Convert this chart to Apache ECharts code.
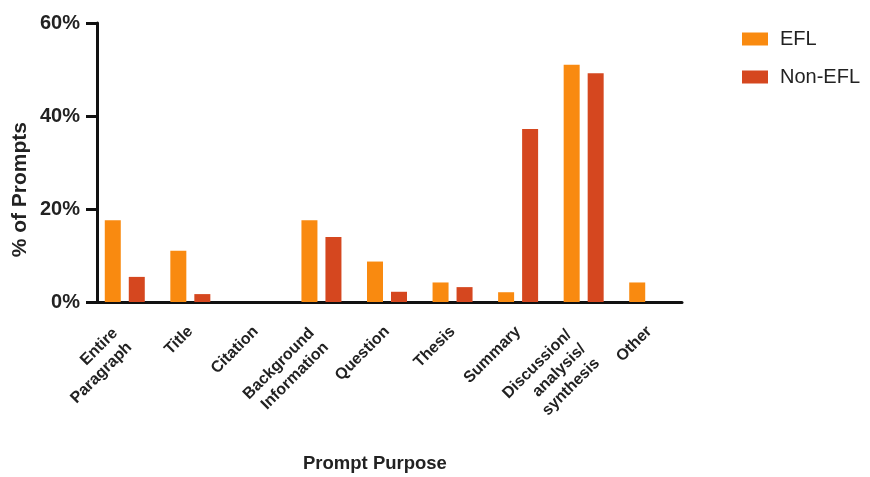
<!DOCTYPE html>
<html><head><meta charset="utf-8">
<script src="https://cdn.jsdelivr.net/npm/echarts@6/dist/echarts.min.js"></script>
<style>html,body{margin:0;padding:0;background:#fff}#c{width:870px;height:477px}</style>
</head><body><div id="c"></div>
<script>
const categories = ['Entire\nParagraph','Title','Citation','Background\nInformation','Question','Thesis','Summary','Discussion/\nanalysis/\nsynthesis','Other'];
const efl = [17.6, 11.0, 0, 17.6, 8.7, 4.2, 2.1, 51.0, 4.2];
const nonEfl = [5.4, 1.7, 0, 14.0, 2.2, 3.2, 37.2, 49.2, 0];
const yTicks = [0, 20, 40, 60];

// right padding by line count (shifts multi-line blocks back along the text direction)
const padByLines = {1: [0, 0, 0, 0], 2: [0, 8, 0, 0], 3: [0, 13, 0, 0]};
const catData = categories.map(c => ({value: c, textStyle: {padding: padByLines[c.split('\n').length]}}));

const chart = echarts.init(document.getElementById('c'));
const F = 'Arial, "Liberation Sans", Helvetica, sans-serif';
const labelFormatter = v => {
  const lines = v.split('\n');
  const body = lines.map(l => '{a|' + l + '}').join('\n');
  return lines.length > 1 ? '{s' + lines.length + '| }\n' + body : body;
};
chart.setOption({
  animation: false,
  textStyle: {fontFamily: F},
  grid: {left: 92, width: 590, top: 23, bottom: 175},
  legend: {
    left: 737, top: 24, orient: 'vertical', itemWidth: 26, itemHeight: 13, itemGap: 18,
    icon: 'rect', data: ['EFL','Non-EFL'],
    textStyle: {fontSize: 20, color: '#222', fontFamily: F, padding: [0,0,0,7]}
  },
  xAxis: {
    type: 'category', data: catData,
    axisLine: {lineStyle: {color: '#111', width: 3}},
    axisTick: {alignWithLabel: true, length: 12, lineStyle: {color: '#111', width: 3}},
    axisLabel: {
      rotate: 45, margin: 27, interval: 0, formatter: labelFormatter,
      rich: {
        a: {fontSize: 16, fontWeight: 'bold', color: '#222', lineHeight: 20, fontFamily: F},
        s2: {fontSize: 1, lineHeight: 9},
        s3: {fontSize: 1, lineHeight: 24}
      }
    }
  },
  yAxis: {
    type: 'value', min: yTicks[0], max: yTicks[yTicks.length-1], interval: 20, offset: -5,
    axisLine: {show: true, lineStyle: {color: '#111', width: 3}},
    axisTick: {show: true, length: 11, lineStyle: {color: '#111', width: 3}},
    splitLine: {show: false},
    axisLabel: {formatter: v => v + '%', fontSize: 20, fontWeight: 'bold', color: '#222', margin: 17, fontFamily: F}
  },
  series: [
    {name: 'EFL', type: 'bar', data: efl, barWidth: 16, barGap: '50%', itemStyle: {color: '#F98A10'}},
    {name: 'Non-EFL', type: 'bar', data: nonEfl, barWidth: 16, itemStyle: {color: '#D5471F'}}
  ],
  graphic: [
    {type: 'text', left: 10, top: 122, style: {text: '% of Prompts', font: 'bold 21px ' + F, fill: '#222'}, rotation: Math.PI/2},
    {type: 'text', left: 303, top: 454, style: {text: 'Prompt Purpose', font: 'bold 18.5px ' + F, fill: '#222'}}
  ]
});
</script></body></html>
